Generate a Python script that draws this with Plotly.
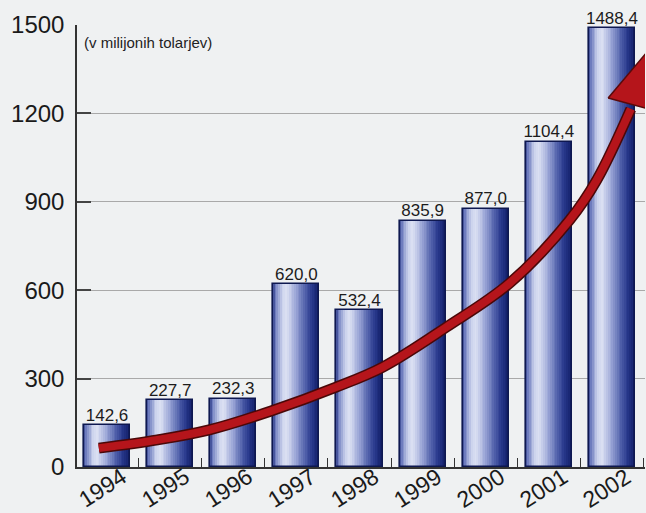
import plotly.graph_objects as go

# ---- data ----
years = ["1994", "1995", "1996", "1997", "1998", "1999", "2000", "2001", "2002"]
values = [142.6, 227.7, 232.3, 620.0, 532.4, 835.9, 877.0, 1104.4, 1488.4]
y_ticks = [0, 300, 600, 900, 1200, 1500]
unit_label = "(v milijonih tolarjev)"

# decorative growth arrow (category-index position, value)
trend_x = [-0.13, 0.8, 1.62, 2.6, 3.63, 4.37, 5.38, 6.38, 7.33, 7.76, 8.3]
trend_y = [64, 92, 126, 190, 271, 339, 475, 624, 838, 974, 1215]
head_x = [7.94, 8.76, 8.92, 7.94]
head_y = [1252, 1460, 1195, 1252]

labels = [f"{v:.1f}".replace(".", ",") for v in values]
boundaries = [i + 0.5 for i in range(len(years))]

BW = 0.73
N = 26
stops = [
    (0.00, (0x34, 0x42, 0x8c)),
    (0.06, (0x70, 0x7e, 0xc0)),
    (0.20, (0xcb, 0xd2, 0xec)),
    (0.30, (0xdc, 0xe1, 0xf3)),
    (0.50, (0x9a, 0xa5, 0xd6)),
    (0.70, (0x50, 0x60, 0xaa)),
    (0.85, (0x27, 0x37, 0x8b)),
    (1.00, (0x12, 0x1f, 0x68)),
]


def grad(f):
    for (a, ca), (b, cb) in zip(stops[:-1], stops[1:]):
        if a <= f <= b:
            t = (f - a) / (b - a) if b > a else 0
            c = [round(ca[i] + (cb[i] - ca[i]) * t) for i in range(3)]
            return f"rgb({c[0]},{c[1]},{c[2]})"
    return "rgb(18,31,104)"


FONT = "Liberation Sans, Arial"
fig = go.Figure()
sw = BW / N
for i in range(N):
    f = (i + 0.5) / N
    fig.add_trace(go.Bar(
        x=years, y=values, width=sw * 1.02, offset=-BW / 2 + i * sw,
        marker=dict(color=grad(f), line=dict(width=0)),
        hoverinfo="skip", showlegend=False,
    ))
# outline
fig.add_trace(go.Bar(
    x=years, y=values, width=BW, offset=-BW / 2,
    marker=dict(color="rgba(0,0,0,0)", line=dict(color="#0e1850", width=1.6)),
    hoverinfo="skip", showlegend=False,
))
# value labels
fig.add_trace(go.Scatter(
    x=years, y=values, mode="text", text=labels, textposition="top center",
    textfont=dict(family=FONT, size=17, color="#1c1c1c"),
    cliponaxis=False, showlegend=False, hoverinfo="skip",
))
# arrow shaft (shadow + red)
fig.add_trace(go.Scatter(
    x=trend_x, y=trend_y, xaxis="x2", yaxis="y", mode="lines",
    line=dict(color="#4a0808", width=11, shape="spline"),
    showlegend=False, hoverinfo="skip",
))
fig.add_trace(go.Scatter(
    x=trend_x, y=trend_y, xaxis="x2", yaxis="y", mode="lines",
    line=dict(color="#b5151b", width=8, shape="spline"),
    showlegend=False, hoverinfo="skip",
))
fig.add_trace(go.Scatter(
    x=head_x, y=head_y, xaxis="x2", yaxis="y", mode="lines", fill="toself",
    fillcolor="#b5151b", line=dict(color="#5a0a0a", width=1.5),
    showlegend=False, hoverinfo="skip",
))

fig.add_annotation(
    text=unit_label, xref="paper", x=0.008, xanchor="left",
    yref="y", y=1440, yanchor="middle", showarrow=False,
    font=dict(family=FONT, size=15, color="#222"),
)
# rotated year labels under the axis
for i, yr in enumerate(years):
    fig.add_annotation(
        text=yr, x=i, xref="x", y=0, yref="paper", showarrow=False,
        textangle=-33, xanchor="center", yanchor="middle",
        xshift=-5, yshift=-21,
        font=dict(family=FONT, size=23, color="#1a1a1a"),
    )

XR = [-0.476, 8.524]
fig.update_layout(
    width=646, height=513,
    margin=dict(l=77, r=1, t=25, b=46),
    paper_bgcolor="#eff1f2", plot_bgcolor="#eff1f2",
    barmode="overlay", bargap=0,
    font=dict(family=FONT, color="#1a1a1a"),
    xaxis=dict(
        type="category", range=XR, ticks="", showline=True,
        linecolor="#333", linewidth=1.5, showgrid=False,
        showticklabels=False, automargin=False,
    ),
    xaxis2=dict(
        overlaying="x", range=XR, side="bottom", showline=False,
        showgrid=False, zeroline=False, showticklabels=False,
        ticks="inside", tickvals=boundaries, ticklen=9, tickwidth=1.2,
        tickcolor="#333", automargin=False,
    ),
    yaxis=dict(
        range=[0, 1500], tickvals=y_ticks, ticks="inside", ticklen=14,
        tickwidth=1.5, tickcolor="#444", showline=True, linecolor="#333",
        linewidth=1.5, showgrid=True, gridcolor="#a9a9a9", gridwidth=1,
        zeroline=False, tickfont=dict(size=24, color="#1a1a1a"),
        ticklabelstandoff=6, automargin=False,
    ),
)

fig.write_html(
    "out.html",
    config={"displayModeBar": False},
    post_script="document.body.style.margin='0px';document.body.style.background='#eff1f2';",
)
